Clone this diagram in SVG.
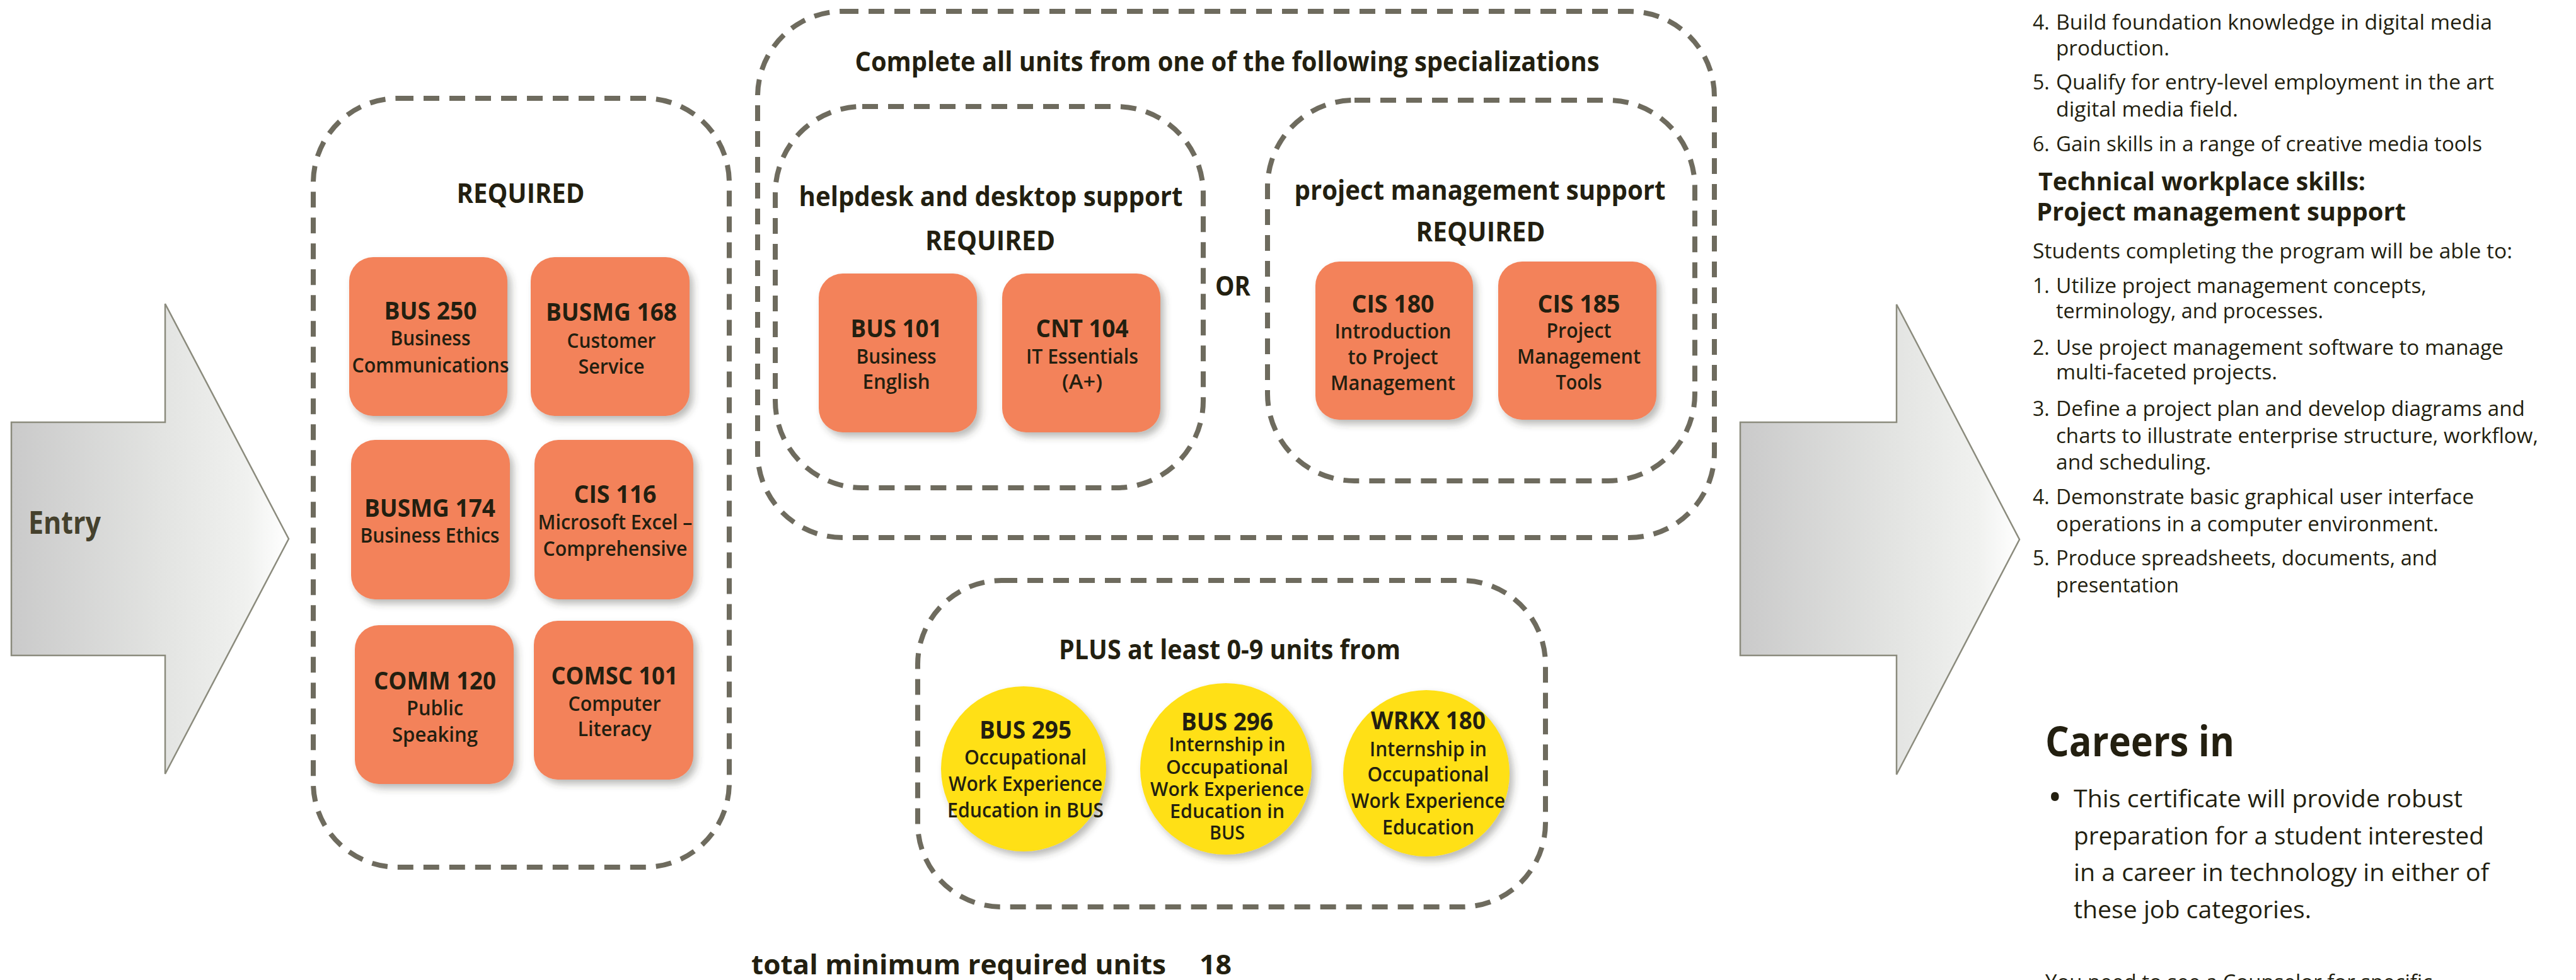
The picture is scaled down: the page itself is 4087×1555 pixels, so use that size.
<svg xmlns="http://www.w3.org/2000/svg" width="4087" height="1555" viewBox="0 0 4087 1555">
<defs>
<linearGradient id="gEntry" gradientUnits="userSpaceOnUse" x1="18" y1="0" x2="458" y2="0">
<stop offset="0" stop-color="#cacaca"/>
<stop offset="0.55" stop-color="#e3e4e2"/>
<stop offset="0.85" stop-color="#f0f1ef"/>
<stop offset="1" stop-color="#ffffff"/>
</linearGradient>
<linearGradient id="gOut" gradientUnits="userSpaceOnUse" x1="2761" y1="0" x2="3204" y2="0">
<stop offset="0" stop-color="#cacaca"/>
<stop offset="0.55" stop-color="#e3e4e2"/>
<stop offset="0.85" stop-color="#f0f1ef"/>
<stop offset="1" stop-color="#ffffff"/>
</linearGradient>
<filter id="sh" x="-15%" y="-15%" width="140%" height="140%">
<feDropShadow dx="6" dy="7" stdDeviation="6" flood-color="#3a3a30" flood-opacity="0.35"/>
</filter>
<style>
.dash{fill:none;stroke:#6e6b5e;stroke-width:8;stroke-dasharray:25 16}
.arrow{stroke:#8b8b7d;stroke-width:2.5}
.course{fill:#f3825a;filter:url(#sh)}
.elec{fill:#ffe014;filter:url(#sh)}
text{font-family:"Open Sans","Liberation Sans",sans-serif;fill:#231f10}
.c{text-anchor:middle}
.h{font-size:43px;font-weight:700}
.ct{font-size:40px;font-weight:700}
.cs{font-size:32px;font-weight:600}
.cst{font-size:30px;font-weight:600}
.b{font-size:32px;font-weight:400}
.rh{font-size:40px;font-weight:700}
.bl{font-size:38px;font-weight:400}
.bul{font-size:60px;font-weight:400}
.car{font-size:67px;font-weight:700}
.entry{font-size:50px;font-weight:700;fill:#45412d}
</style>
</defs>

<g id="entry">
<polygon class="arrow" fill="url(#gEntry)" points="18,670 262,670 262,482 458,855 262,1228 262,1040 18,1040"/>
<text class="entry" x="45" y="847" textLength="115" lengthAdjust="spacingAndGlyphs">Entry</text>
</g>

<g id="connectors">
<polygon id="outcome-arrow" class="arrow" fill="url(#gOut)" points="2761,670 3009,670 3009,483 3204,856 3009,1229 3009,1040 2761,1040"/>
</g>

<g id="required-core">
<rect class="dash" x="497" y="156" width="660" height="1220" rx="134"/>
<text class="h c" x="826" y="322" textLength="203" lengthAdjust="spacingAndGlyphs">REQUIRED</text>
</g>

<g id="bus250">
<rect class="course" x="554" y="408" width="251" height="252" rx="38"/>
<text class="ct c" x="683" y="507" textLength="147" lengthAdjust="spacingAndGlyphs">BUS 250</text>
<text class="cs c" x="683" y="548" textLength="127" lengthAdjust="spacingAndGlyphs">Business</text>
<text class="cs c" x="683" y="591" textLength="249" lengthAdjust="spacingAndGlyphs">Communications</text>
</g>
<g id="busmg168">
<rect class="course" x="842" y="408" width="252" height="252" rx="38"/>
<text class="ct c" x="970" y="509" textLength="208" lengthAdjust="spacingAndGlyphs">BUSMG 168</text>
<text class="cs c" x="970" y="552" textLength="141" lengthAdjust="spacingAndGlyphs">Customer</text>
<text class="cs c" x="970" y="593" textLength="105" lengthAdjust="spacingAndGlyphs">Service</text>
</g>
<g id="busmg174">
<rect class="course" x="557" y="698" width="252" height="253" rx="38"/>
<text class="ct c" x="682" y="820" textLength="208" lengthAdjust="spacingAndGlyphs">BUSMG 174</text>
<text class="cs c" x="682" y="861" textLength="221" lengthAdjust="spacingAndGlyphs">Business Ethics</text>
</g>
<g id="cis116">
<rect class="course" x="848" y="698" width="252" height="253" rx="38"/>
<text class="ct c" x="976" y="798" textLength="131" lengthAdjust="spacingAndGlyphs">CIS 116</text>
<text class="cs c" x="976" y="840" textLength="245" lengthAdjust="spacingAndGlyphs">Microsoft Excel –</text>
<text class="cs c" x="976" y="882" textLength="229" lengthAdjust="spacingAndGlyphs">Comprehensive</text>
</g>
<g id="comm120">
<rect class="course" x="563" y="992" width="252" height="252" rx="38"/>
<text class="ct c" x="690" y="1094" textLength="194" lengthAdjust="spacingAndGlyphs">COMM 120</text>
<text class="cs c" x="690" y="1135" textLength="90" lengthAdjust="spacingAndGlyphs">Public</text>
<text class="cs c" x="690" y="1177" textLength="136" lengthAdjust="spacingAndGlyphs">Speaking</text>
</g>
<g id="comsc101">
<rect class="course" x="847" y="985" width="253" height="252" rx="38"/>
<text class="ct c" x="975" y="1086" textLength="201" lengthAdjust="spacingAndGlyphs">COMSC 101</text>
<text class="cs c" x="975" y="1128" textLength="147" lengthAdjust="spacingAndGlyphs">Computer</text>
<text class="cs c" x="975" y="1168" textLength="117" lengthAdjust="spacingAndGlyphs">Literacy</text>
</g>

<g id="specializations">
<rect class="dash" x="1202" y="18" width="1518" height="835" rx="135"/>
<text class="h c" x="1947" y="113" textLength="1181" lengthAdjust="spacingAndGlyphs">Complete all units from one of the following specializations</text>
<text class="h c" x="1956" y="469" textLength="56" lengthAdjust="spacingAndGlyphs">OR</text>
</g>

<g id="helpdesk">
<rect class="dash" x="1230" y="169" width="679" height="605" rx="138"/>
<text class="h c" x="1572" y="327" textLength="609" lengthAdjust="spacingAndGlyphs">helpdesk and desktop support</text>
<text class="h c" x="1571" y="397" textLength="206" lengthAdjust="spacingAndGlyphs">REQUIRED</text>
</g>
<g id="bus101">
<rect class="course" x="1299" y="434" width="251" height="252" rx="38"/>
<text class="ct c" x="1422" y="535" textLength="145" lengthAdjust="spacingAndGlyphs">BUS 101</text>
<text class="cs c" x="1422" y="577" textLength="127" lengthAdjust="spacingAndGlyphs">Business</text>
<text class="cs c" x="1422" y="617" textLength="107" lengthAdjust="spacingAndGlyphs">English</text>
</g>
<g id="cnt104">
<rect class="course" x="1590" y="434" width="251" height="252" rx="38"/>
<text class="ct c" x="1717" y="535" textLength="147" lengthAdjust="spacingAndGlyphs">CNT 104</text>
<text class="cs c" x="1717" y="577" textLength="178" lengthAdjust="spacingAndGlyphs">IT Essentials</text>
<text class="cs c" x="1717" y="617" textLength="64" lengthAdjust="spacingAndGlyphs">(A+)</text>
</g>

<g id="project-management">
<rect class="dash" x="2011" y="159" width="678" height="604" rx="138"/>
<text class="h c" x="2348" y="317" textLength="589" lengthAdjust="spacingAndGlyphs">project management support</text>
<text class="h c" x="2349" y="383" textLength="205" lengthAdjust="spacingAndGlyphs">REQUIRED</text>
</g>
<g id="cis180">
<rect class="course" x="2087" y="415" width="250" height="251" rx="38"/>
<text class="ct c" x="2210" y="496" textLength="131" lengthAdjust="spacingAndGlyphs">CIS 180</text>
<text class="cs c" x="2210" y="537" textLength="185" lengthAdjust="spacingAndGlyphs">Introduction</text>
<text class="cs c" x="2210" y="578" textLength="143" lengthAdjust="spacingAndGlyphs">to Project</text>
<text class="cs c" x="2210" y="619" textLength="198" lengthAdjust="spacingAndGlyphs">Management</text>
</g>
<g id="cis185">
<rect class="course" x="2377" y="415" width="251" height="251" rx="38"/>
<text class="ct c" x="2505" y="496" textLength="131" lengthAdjust="spacingAndGlyphs">CIS 185</text>
<text class="cs c" x="2505" y="536" textLength="103" lengthAdjust="spacingAndGlyphs">Project</text>
<text class="cs c" x="2505" y="577" textLength="196" lengthAdjust="spacingAndGlyphs">Management</text>
<text class="cs c" x="2505" y="618" textLength="73" lengthAdjust="spacingAndGlyphs">Tools</text>
</g>

<g id="electives">
<rect class="dash" x="1456" y="921" width="996" height="518" rx="133"/>
<text class="h c" x="1951" y="1046" textLength="542" lengthAdjust="spacingAndGlyphs">PLUS at least 0-9 units from</text>
</g>
<g id="bus295">
<circle class="elec" cx="1624" cy="1220" r="131"/>
<text class="ct c" x="1627" y="1172" textLength="146" lengthAdjust="spacingAndGlyphs">BUS 295</text>
<text class="cs c" x="1627" y="1213" textLength="194" lengthAdjust="spacingAndGlyphs">Occupational</text>
<text class="cs c" x="1627" y="1255" textLength="244" lengthAdjust="spacingAndGlyphs">Work Experience</text>
<text class="cs c" x="1627" y="1297" textLength="248" lengthAdjust="spacingAndGlyphs">Education in BUS</text>
</g>
<g id="bus296">
<circle class="elec" cx="1945" cy="1220" r="136"/>
<text class="ct c" x="1947" y="1159" textLength="146" lengthAdjust="spacingAndGlyphs">BUS 296</text>
<text class="cst c" x="1947" y="1192" textLength="185" lengthAdjust="spacingAndGlyphs">Internship in</text>
<text class="cst c" x="1947" y="1228" textLength="194" lengthAdjust="spacingAndGlyphs">Occupational</text>
<text class="cst c" x="1947" y="1263" textLength="244" lengthAdjust="spacingAndGlyphs">Work Experience</text>
<text class="cst c" x="1947" y="1298" textLength="182" lengthAdjust="spacingAndGlyphs">Education in</text>
<text class="cst c" x="1947" y="1332" textLength="56" lengthAdjust="spacingAndGlyphs">BUS</text>
</g>
<g id="wrkx180">
<circle class="elec" cx="2263" cy="1227" r="132"/>
<text class="ct c" x="2266" y="1157" textLength="182" lengthAdjust="spacingAndGlyphs">WRKX 180</text>
<text class="cs c" x="2266" y="1200" textLength="186" lengthAdjust="spacingAndGlyphs">Internship in</text>
<text class="cs c" x="2266" y="1240" textLength="193" lengthAdjust="spacingAndGlyphs">Occupational</text>
<text class="cs c" x="2266" y="1282" textLength="244" lengthAdjust="spacingAndGlyphs">Work Experience</text>
<text class="cs c" x="2266" y="1324" textLength="146" lengthAdjust="spacingAndGlyphs">Education</text>
</g>

<g id="total">
<text class="h" x="1192" y="1546" textLength="658" lengthAdjust="spacingAndGlyphs">total minimum required units</text>
<text class="h" x="1903" y="1546" textLength="51" lengthAdjust="spacingAndGlyphs">18</text>
</g>

<g id="outcomes">
<text class="b" x="3225" y="47">4.</text>
<text class="b" x="3262" y="47" textLength="692" lengthAdjust="spacingAndGlyphs">Build foundation knowledge in digital media</text>
<text class="b" x="3262" y="88" textLength="180" lengthAdjust="spacingAndGlyphs">production.</text>
<text class="b" x="3225" y="142">5.</text>
<text class="b" x="3262" y="142" textLength="695" lengthAdjust="spacingAndGlyphs">Qualify for entry-level employment in the art</text>
<text class="b" x="3262" y="185" textLength="289" lengthAdjust="spacingAndGlyphs">digital media field.</text>
<text class="b" x="3225" y="240">6.</text>
<text class="b" x="3262" y="240" textLength="676" lengthAdjust="spacingAndGlyphs">Gain skills in a range of creative media tools</text>
<text class="rh" x="3234" y="302" textLength="519" lengthAdjust="spacingAndGlyphs">Technical workplace skills:</text>
<text class="rh" x="3231" y="350" textLength="586" lengthAdjust="spacingAndGlyphs">Project management support</text>
<text class="b" x="3225" y="410" textLength="761" lengthAdjust="spacingAndGlyphs">Students completing the program will be able to:</text>
<text class="b" x="3225" y="465">1.</text>
<text class="b" x="3262" y="465" textLength="588" lengthAdjust="spacingAndGlyphs">Utilize project management concepts,</text>
<text class="b" x="3262" y="505" textLength="424" lengthAdjust="spacingAndGlyphs">terminology, and processes.</text>
<text class="b" x="3225" y="563">2.</text>
<text class="b" x="3262" y="563" textLength="710" lengthAdjust="spacingAndGlyphs">Use project management software to manage</text>
<text class="b" x="3262" y="602" textLength="351" lengthAdjust="spacingAndGlyphs">multi-faceted projects.</text>
<text class="b" x="3225" y="660">3.</text>
<text class="b" x="3262" y="660" textLength="744" lengthAdjust="spacingAndGlyphs">Define a project plan and develop diagrams and</text>
<text class="b" x="3262" y="703" textLength="765" lengthAdjust="spacingAndGlyphs">charts to illustrate enterprise structure, workflow,</text>
<text class="b" x="3262" y="745" textLength="246" lengthAdjust="spacingAndGlyphs">and scheduling.</text>
<text class="b" x="3225" y="800">4.</text>
<text class="b" x="3262" y="800" textLength="663" lengthAdjust="spacingAndGlyphs">Demonstrate basic graphical user interface</text>
<text class="b" x="3262" y="843" textLength="607" lengthAdjust="spacingAndGlyphs">operations in a computer environment.</text>
<text class="b" x="3225" y="897">5.</text>
<text class="b" x="3262" y="897" textLength="605" lengthAdjust="spacingAndGlyphs">Produce spreadsheets, documents, and</text>
<text class="b" x="3262" y="940" textLength="195" lengthAdjust="spacingAndGlyphs">presentation</text>
</g>

<g id="careers">
<text class="car" x="3245" y="1200" textLength="300" lengthAdjust="spacingAndGlyphs">Careers in</text>
<text class="bul" x="3249" y="1286">•</text>
<text class="bl" x="3290" y="1281" textLength="617" lengthAdjust="spacingAndGlyphs">This certificate will provide robust</text>
<text class="bl" x="3290" y="1340" textLength="651" lengthAdjust="spacingAndGlyphs">preparation for a student interested</text>
<text class="bl" x="3290" y="1398" textLength="659" lengthAdjust="spacingAndGlyphs">in a career in technology in either of</text>
<text class="bl" x="3290" y="1457" textLength="377" lengthAdjust="spacingAndGlyphs">these job categories.</text>
<text class="b" x="3245" y="1570" textLength="614" lengthAdjust="spacingAndGlyphs">You need to see a Counselor for specific</text>
</g>
</svg>
